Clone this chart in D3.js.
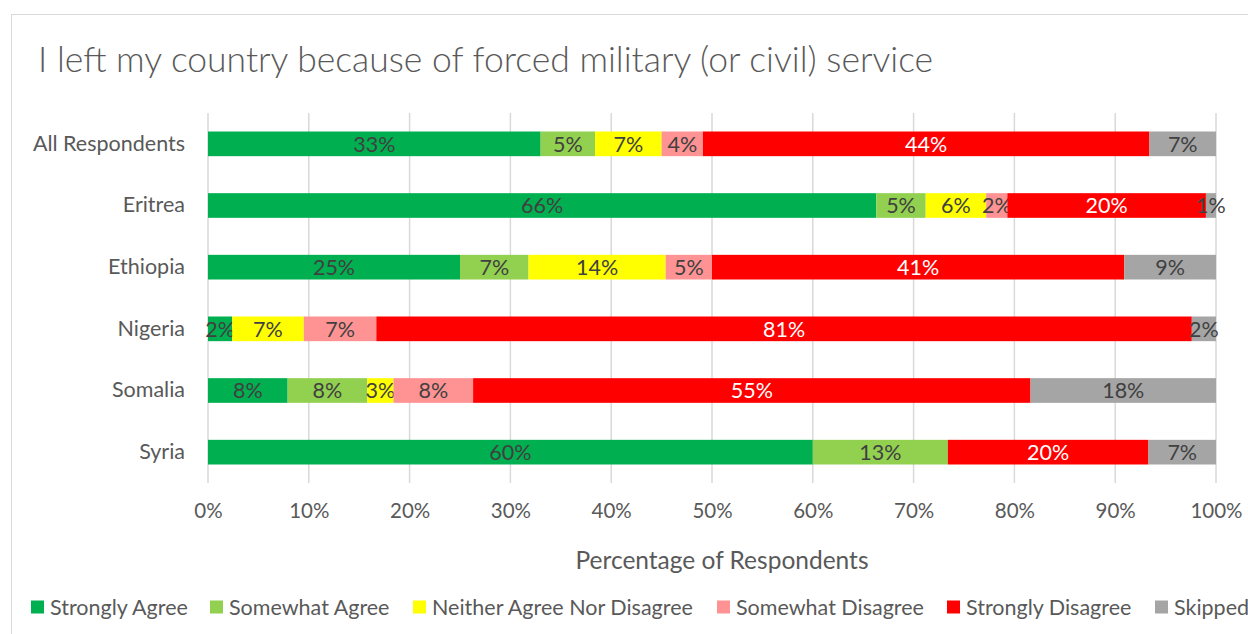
<!DOCTYPE html>
<html>
<head>
<meta charset="utf-8">
<script src="https://cdn.jsdelivr.net/npm/d3@7"></script>
<style>
  body { margin: 0; background: #fff; }
  svg text { font-family: Lato, "Open Sans", sans-serif; }
</style>
</head>
<body>
<script>
//stacked bar chart of survey answers, one row per country

(function(){

//data
var categories = ["All Respondents", "Eritrea", "Ethiopia", "Nigeria", "Somalia", "Syria"];
var seriesNames = ["Strongly Agree", "Somewhat Agree", "Neither Agree Nor Disagree", "Somewhat Disagree", "Strongly Disagree", "Skipped"];
var stronglyAgree    = [33.0, 66.3, 25.0, 2.4, 7.9, 60.0];
var somewhatAgree    = [5.4, 4.9, 6.8, 0, 7.9, 13.4];
var neither          = [6.6, 6.0, 13.6, 7.1, 2.6, 0];
var somewhatDisagree = [4.1, 2.1, 4.6, 7.2, 7.9, 0];
var stronglyDisagree = [44.3, 19.7, 40.9, 80.9, 55.3, 19.9];
var skipped          = [6.6, 1.0, 9.1, 2.4, 18.4, 6.7];
var tickValues = [0, 10, 20, 30, 40, 50, 60, 70, 80, 90, 100];

var colors = ["#00B050", "#92D050", "#FFFF00", "#FF9393", "#FF0000", "#A5A5A5"];
var labelColors = ["#404040", "#404040", "#404040", "#404040", "#ffffff", "#404040"];

var width = 1248,
    height = 634;

//build table for d3.stack from the arrays
var allSeries = [stronglyAgree, somewhatAgree, neither, somewhatDisagree, stronglyDisagree, skipped];
var table = categories.map(function(c, i){
    var row = {category: c};
    seriesNames.forEach(function(s, j){ row[s] = allSeries[j][i]; });
    return row;
});

var svg = d3.select("body")
    .append("svg")
    .attr("width", width)
    .attr("height", height);

//chart frame (runs off the right and bottom edge like the picture)
svg.append("rect")
    .attr("x", 11.5)
    .attr("y", 14.5)
    .attr("width", 1260)
    .attr("height", 640)
    .attr("fill", "#fff")
    .attr("stroke", "#d9d9d9")
    .attr("stroke-width", 1);

//title
svg.append("text")
    .attr("x", 38)
    .attr("y", 72)
    .attr("fill", "#595959")
    .style("font-size", "35.5px")
    .style("font-weight", 300)
    .text("I left my country because of forced military (or civil) service");

//scales
var xScale = d3.scaleLinear()
    .domain([0, 100])
    .range([208, 1216]);

var yScale = d3.scaleBand()
    .domain(categories)
    .range([113, 483])
    .paddingInner(0.6)
    .paddingOuter(0.3);

//gridlines
svg.append("g")
    .selectAll("line")
    .data(tickValues)
    .enter()
    .append("line")
    .attr("x1", function(d){ return xScale(d); })
    .attr("x2", function(d){ return xScale(d); })
    .attr("y1", 113)
    .attr("y2", 483)
    .attr("stroke", "#d9d9d9")
    .attr("stroke-width", 1.5);

//x axis, only the labels are shown
var xAxis = d3.axisBottom(xScale)
    .tickValues(tickValues)
    .tickSize(0)
    .tickPadding(0)
    .tickFormat(function(d){ return d + "%"; });

var axis = svg.append("g")
    .attr("transform", "translate(0,503)")
    .call(xAxis);
axis.select(".domain").remove();
axis.selectAll("text")
    .attr("fill", "#595959")
    .style("font-size", "20.5px")
    .style("font-family", "Lato, sans-serif");

//y axis with category names
var yAxis = d3.axisLeft(yScale)
    .tickSize(0)
    .tickPadding(0);

var yAx = svg.append("g")
    .attr("transform", "translate(185,0)")
    .call(yAxis);
yAx.select(".domain").remove();
yAx.selectAll("text")
    .attr("fill", "#595959")
    .style("font-size", "21.5px")
    .style("font-family", "Lato, sans-serif");

//axis title, sits a little right of the plot centre in the picture
svg.append("text")
    .attr("x", (xScale(0) + xScale(100)) / 2 + 10)
    .attr("y", 569)
    .attr("text-anchor", "middle")
    .attr("fill", "#595959")
    .style("font-size", "24.5px")
    .text("Percentage of Respondents");

//stacked bars
var stack = d3.stack().keys(seriesNames);
var stacked = stack(table);

var layers = svg.selectAll(".layer")
    .data(stacked)
    .enter()
    .append("g")
    .attr("class", "layer")
    .attr("fill", function(d, i){ return colors[i]; });

layers.selectAll("rect")
    .data(function(d){ return d.filter(function(p){ return p[1] - p[0] > 0; }); })
    .enter()
    .append("rect")
    .attr("x", function(d){ return xScale(d[0]); })
    .attr("y", function(d){ return yScale(d.data.category); })
    .attr("width", function(d){ return xScale(d[1]) - xScale(d[0]); })
    .attr("height", yScale.bandwidth());

//data labels, centred in each segment
layers.each(function(series, i){
    d3.select(this).selectAll("text")
        .data(series.filter(function(p){ return p[1] - p[0] > 0; }))
        .enter()
        .append("text")
        .attr("x", function(d){ return (xScale(d[0]) + xScale(d[1])) / 2; })
        .attr("y", function(d){ return yScale(d.data.category) + yScale.bandwidth() / 2; })
        .attr("dy", "0.36em")
        .attr("text-anchor", "middle")
        .attr("fill", labelColors[i])
        .style("font-size", "21.5px")
        .text(function(d){ return Math.round(d[1] - d[0]) + "%"; });
});

//legend along the bottom
var legendX = [31, 210, 413, 717, 947, 1155];
var legend = svg.selectAll(".legend")
    .data(seriesNames)
    .enter()
    .append("g")
    .attr("class", "legend")
    .attr("transform", function(d, i){ return "translate(" + legendX[i] + ",607)"; });

legend.append("rect")
    .attr("x", 0)
    .attr("y", -6.5)
    .attr("width", 13)
    .attr("height", 13)
    .attr("fill", function(d, i){ return colors[i]; });

legend.append("text")
    .attr("x", 19)
    .attr("y", 0)
    .attr("dy", "0.36em")
    .attr("fill", "#595959")
    .style("font-size", "21.5px")
    .text(function(d){ return d; });

})();
</script>
</body>
</html>
